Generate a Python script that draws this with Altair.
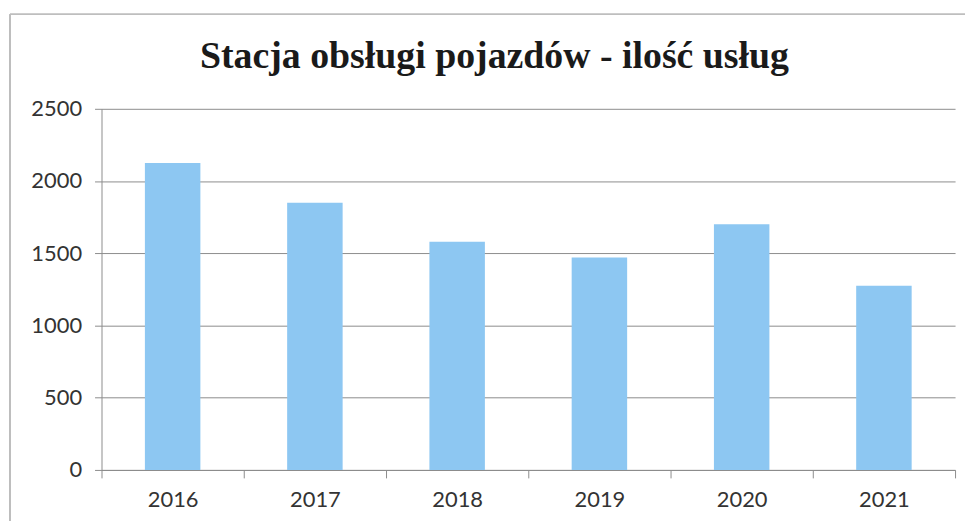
import altair as alt
import pandas as pd

years = ["2016", "2017", "2018", "2019", "2020", "2021"]
services = [2125, 1850, 1580, 1470, 1700, 1275]
y_ticks = [0, 500, 1000, 1500, 2000, 2500]
title_text = "Stacja obsługi pojazdów - ilość usług"

df = pd.DataFrame({"rok": years, "usługi": services})

GRID = "#8c8c8c"
LABEL_FONT = "Lato"

bars = alt.Chart(df).mark_bar(
    color="#8DC7F2", width=alt.RelativeBandSize(0.39)
).encode(
    x=alt.X("rok:N", sort=years, title=None,
            scale=alt.Scale(paddingInner=0, paddingOuter=0),
            axis=alt.Axis(labelAngle=0, tickBand="extent", tickSize=8,
                          tickColor=GRID, domainColor=GRID, grid=False,
                          labelFont=LABEL_FONT, labelFontSize=22,
                          labelColor="#333333", labelPadding=12)),
    y=alt.Y("usługi:Q", title=None,
            scale=alt.Scale(domain=[0, 2500], nice=False),
            axis=alt.Axis(values=y_ticks, format="d", grid=True, gridColor=GRID,
                          tickSize=7, tickColor=GRID, domainColor=GRID,
                          labelFont=LABEL_FONT, labelFontSize=22,
                          labelColor="#333333", labelPadding=13)),
)

frame_top = alt.Chart(df).mark_rule(color="#bdbdbd", strokeWidth=1).encode(
    x=alt.value(-92), x2=alt.value(868), y=alt.value(-95)
)
frame_left = alt.Chart(df).mark_rule(color="#bdbdbd", strokeWidth=1).encode(
    x=alt.value(-92), y=alt.value(-95), y2=alt.value(430)
)
title_mark = alt.Chart(pd.DataFrame({"t": [title_text]})).mark_text(
    font="Liberation Serif", fontSize=38, fontWeight="bold",
    color="#1a1a1a", align="center", baseline="alphabetic",
).encode(text="t:N", x=alt.value(395), y=alt.value(-41))

chart = alt.layer(frame_top, frame_left, title_mark, bars).properties(
    width=858,
    height=363,
    autosize=alt.AutoSizeParams(type="none"),
    padding={"left": 94, "top": 100, "right": 10, "bottom": 50},
).configure_view(stroke=None)

chart.save("out.html", embed_options={"renderer": "svg", "actions": False})
